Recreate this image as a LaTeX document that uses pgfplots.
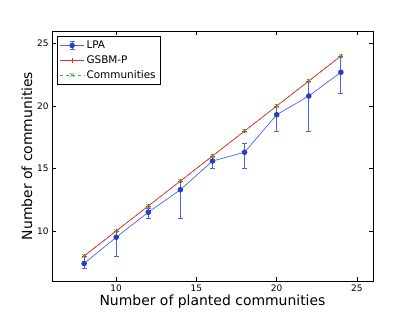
\documentclass[border=0pt]{standalone}
\usepackage{fontspec}
\setmainfont{DejaVu Sans}
\usepackage{pgfplots}
\pgfplotsset{compat=1.18}
\definecolor{lpaline}{RGB}{70,100,240}
\definecolor{lpamark}{RGB}{40,60,200}
\definecolor{gsbm}{RGB}{240,40,40}
\definecolor{comm}{RGB}{60,180,60}
\begin{document}
\begin{tikzpicture}[x=1bp,y=1bp]
\path[use as bounding box] (-52,-32) rectangle (363,281);
\begin{axis}[
  at={(0,0)}, anchor=south west,
  scale only axis, width=321bp, height=250bp,
  xmin=6, xmax=26, ymin=6, ymax=26,
  xtick={10,15,20,25}, ytick={10,15,20,25},
  tick align=inside, major tick length=4bp,
  tick style={black, line width=0.5pt},
  axis line style={black, line width=0.8pt},
  ticklabel style={font=\fontsize{9}{10}\selectfont},
  /pgf/number format/assume math mode=true,
  xlabel={Number of planted communities},
  ylabel={Number of communities},
  label style={font=\fontsize{14}{16}\selectfont},
  xlabel style={yshift=3bp},
  ylabel style={yshift=-2bp},
  legend cell align=left,
  legend style={at={(0.015,0.98)}, anchor=north west, draw=black, line width=0.8pt,
    font=\fontsize{10.5}{12}\selectfont, row sep=1.5bp, inner sep=2.5bp},
]
% Communities (green dashed, x markers)
\addplot[comm, dashed, line width=0.6pt, mark=x, mark size=2.4bp, mark options={solid}, forget plot]
  coordinates {(8,8) (10,10) (12,12) (14,14) (16,16) (18,18) (20,20) (22,22) (24,24)};
% LPA with error bars
\addplot[forget plot, lpaline, line width=0.7pt, mark=*, mark size=2.4bp,
  mark options={fill=lpamark, draw=lpamark},
  error bars/.cd, y dir=both, y explicit,
  error bar style={lpaline, line width=0.9pt},
  error mark options={lpaline, rotate=90, mark size=2.5bp, line width=0.9pt}]
  coordinates {
  (8,7.4) += (0,0.6) -= (0,0.4)
  (10,9.5) += (0,0.5) -= (0,1.5)
  (12,11.5) += (0,0.3) -= (0,0.5)
  (14,13.3) += (0,0.7) -= (0,2.3)
  (16,15.6) += (0,0.4) -= (0,0.6)
  (18,16.3) += (0,0.7) -= (0,1.3)
  (20,19.3) += (0,0.7) -= (0,1.3)
  (22,20.8) += (0,1.2) -= (0,2.8)
  (24,22.7) += (0,1.3) -= (0,1.7)
  };
% GSBM-P red
\addplot[gsbm, line width=0.7pt, mark=+, mark size=2.4bp, forget plot]
  coordinates {(8,8) (10,10) (12,12) (14,14) (16,16) (18,18) (20,20) (22,22) (24,24)};
\addplot[comm, only marks, mark=x, mark size=2.4bp, forget plot]
  coordinates {(8,8) (10,10) (12,12) (14,14) (16,16) (18,18) (20,20) (22,22) (24,24)};
% legend entries
\addlegendimage{legend image code/.code={
  \draw[lpaline, line width=0.8pt] (0bp,0bp) -- (24bp,0bp);
  \draw[lpaline, line width=0.9pt] (12bp,-4bp) -- (12bp,4bp);
  \draw[lpaline, line width=0.9pt] (9.5bp,-4bp) -- (14.5bp,-4bp);
  \draw[lpaline, line width=0.9pt] (9.5bp,4bp) -- (14.5bp,4bp);
  \fill[lpamark] (12bp,0bp) circle (2.3bp);
}}
\addlegendentry{LPA}
\addlegendimage{legend image code/.code={
  \draw[gsbm, line width=0.8pt] (0bp,0bp) -- (24bp,0bp);
  \draw[gsbm, line width=0.6pt] (12bp,-2.4bp) -- (12bp,2.4bp);
}}
\addlegendentry{GSBM-P}
\addlegendimage{legend image code/.code={
  \draw[comm, line width=0.7pt, dashed] (0bp,0bp) -- (24bp,0bp);
  \draw[comm, line width=0.6pt] (10.2bp,-1.8bp) -- (13.8bp,1.8bp);
  \draw[comm, line width=0.6pt] (10.2bp,1.8bp) -- (13.8bp,-1.8bp);
}}
\addlegendentry{Communities}
\end{axis}
\end{tikzpicture}
\end{document}
